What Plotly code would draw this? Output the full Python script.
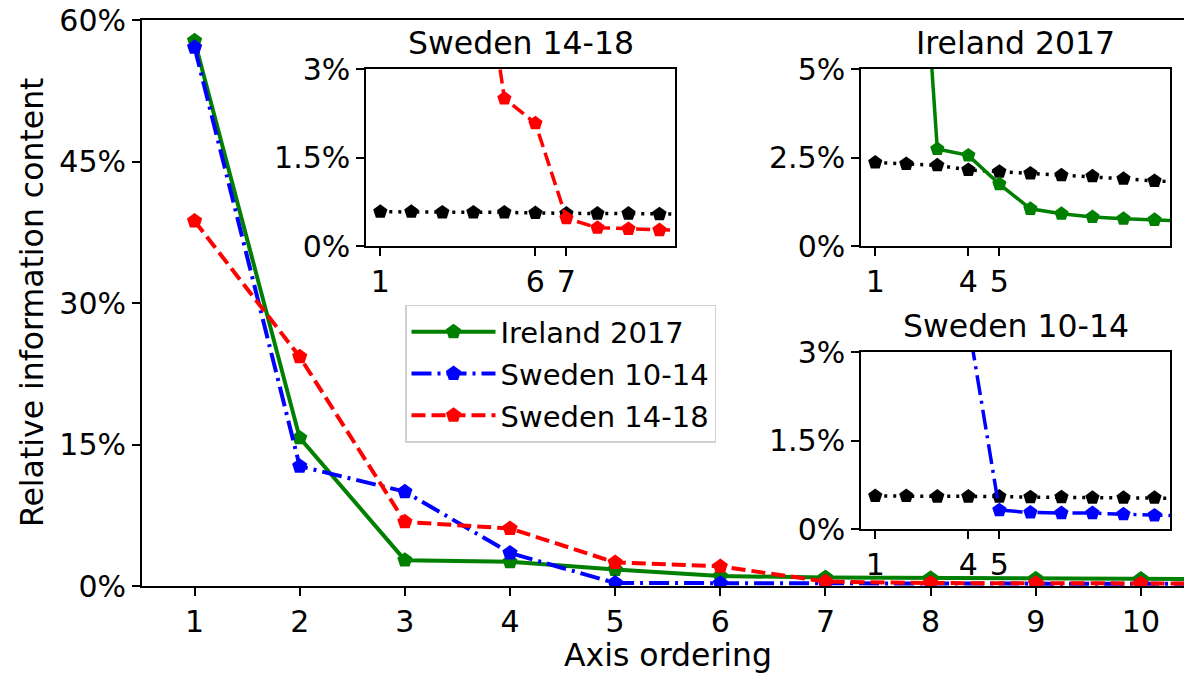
import plotly.graph_objects as go

# Axis ordering positions (the last one lies just past the visible range)
positions = [1, 2, 3, 4, 5, 6, 7, 8, 9, 10, 11]

# Relative information content per position, in percent
ireland_2017 = [57.8, 15.7, 2.74, 2.56, 1.75, 1.05, 0.91, 0.82, 0.77, 0.74, 0.70]
sweden_10_14 = [57.1, 12.7, 10.0, 3.5, 0.32, 0.28, 0.27, 0.27, 0.25, 0.23, 0.22]
sweden_14_18 = [38.7, 24.3, 6.8, 6.1, 2.5, 2.08, 0.47, 0.31, 0.29, 0.27, 0.26]

# Reference (black dotted) curves shown in the zoomed panels, in percent
ref_sweden_14_18 = [0.58, 0.58, 0.57, 0.57, 0.57, 0.56, 0.55, 0.55, 0.55, 0.54, 0.54]
ref_ireland_2017 = [2.36, 2.32, 2.28, 2.15, 2.10, 2.05, 2.00, 1.97, 1.90, 1.84, 1.80]
ref_sweden_10_14 = [0.56, 0.56, 0.55, 0.55, 0.55, 0.54, 0.54, 0.53, 0.53, 0.53, 0.52]

main_yticks = [0, 15, 30, 45, 60]
main_xticks = [1, 2, 3, 4, 5, 6, 7, 8, 9, 10]

FONT = "DejaVu Sans"
GREEN, BLUE, RED, BLACK = "#008000", "#0000ff", "#ff0000", "#000000"
DASHED = "14px,6px"
DASHDOT = "20px,6px,3px,6px"
DOTTED = "3px,6px"

fig = go.Figure()


def add_series(x, y, color, dash, name, xa, ya, legend=False, width=4, size=16):
    fig.add_trace(go.Scatter(
        x=x, y=y, name=name, mode="lines+markers",
        line=dict(color=color, width=width, dash=dash),
        marker=dict(symbol="pentagon", size=size, color=color),
        xaxis=xa, yaxis=ya, showlegend=legend, legendgroup=name,
        cliponaxis=True,
    ))


# Main panel
add_series(positions, ireland_2017, GREEN, "solid", "Ireland 2017", "x", "y", True)
add_series(positions, sweden_10_14, BLUE, DASHDOT, "Sweden 10-14", "x", "y", True)
add_series(positions, sweden_14_18, RED, DASHED, "Sweden 14-18", "x", "y", True)

# Zoomed panels
add_series(positions, ref_sweden_14_18, BLACK, DOTTED, "ref 14-18", "x2", "y2", width=3.5, size=15)
add_series(positions, sweden_14_18, RED, DASHED, "Sweden 14-18 zoom", "x2", "y2", width=3.5, size=15)
add_series(positions, ref_ireland_2017, BLACK, DOTTED, "ref Ireland", "x3", "y3", width=3.5, size=15)
add_series(positions, ireland_2017, GREEN, "solid", "Ireland 2017 zoom", "x3", "y3", width=3.5, size=15)
add_series(positions, ref_sweden_10_14, BLACK, DOTTED, "ref 10-14", "x4", "y4", width=3.5, size=15)
add_series(positions, sweden_10_14, BLUE, DASHDOT, "Sweden 10-14 zoom", "x4", "y4", width=3.5, size=15)

tickfont = dict(family=FONT, size=30, color="black")

fig.update_layout(
    width=1184, height=673,
    margin=dict(l=142, r=0, t=20, b=87),
    paper_bgcolor="white", plot_bgcolor="white",
    font=dict(family=FONT, color="black"),
    showlegend=True,
    legend=dict(
        x=0.2524, y=0.4965, xanchor="left", yanchor="top",
        font=dict(family=FONT, size=29),
        bgcolor="white", bordercolor="#d0d0d0", borderwidth=1.5,
        tracegroupgap=1, itemwidth=84,
    ),
    xaxis=dict(
        domain=[0, 1], range=[0.5, 10.41], tickvals=main_xticks,
        showline=True, linecolor="black", linewidth=2, mirror=True,
        ticks="outside", ticklen=8, tickwidth=1.5, tickcolor="black",
        tickfont=tickfont, showgrid=False, zeroline=False,
    ),
    yaxis=dict(
        domain=[0, 1], range=[0, 60], tickvals=main_yticks,
        ticktext=[f"{v}%" for v in main_yticks],
        showline=True, linecolor="black", linewidth=2, mirror=False,
        ticks="outside", ticklen=8, tickwidth=1.5, tickcolor="black",
        tickfont=tickfont, showgrid=False, zeroline=False,
    ),
)

inset_defs = [
    # (axis suffix, x domain, y domain, y max, y ticks, y tick text, x ticks, title)
    ("2", [0.2150, 0.5115], [0.6007, 0.9134], 3, [0, 1.5, 3], ["0%", "1.5%", "3%"], [1, 6, 7], "Sweden 14-18"),
    ("3", [0.6900, 0.9866], [0.6007, 0.9134], 5, [0, 2.5, 5], ["0%", "2.5%", "5%"], [1, 4, 5], "Ireland 2017"),
    ("4", [0.6900, 0.9866], [0.1007, 0.4134], 3, [0, 1.5, 3], ["0%", "1.5%", "3%"], [1, 4, 5], "Sweden 10-14"),
]

for sfx, xd, yd, ymax, yt, ytt, xt, title in inset_defs:
    fig.update_layout({
        f"xaxis{sfx}": dict(
            domain=xd, range=[0.54, 10.5], anchor=f"y{sfx}", tickvals=xt,
            showline=True, linecolor="black", linewidth=1.5, mirror=True,
            ticks="outside", ticklen=8, tickwidth=1.5, tickcolor="black",
            tickfont=tickfont, showgrid=False, zeroline=False,
        ),
        f"yaxis{sfx}": dict(
            domain=yd, range=[0, ymax], anchor=f"x{sfx}", tickvals=yt, ticktext=ytt,
            showline=True, linecolor="black", linewidth=1.5, mirror=True,
            ticks="outside", ticklen=8, tickwidth=1.5, tickcolor="black",
            tickfont=tickfont, showgrid=False, zeroline=False,
        ),
    })
    fig.add_annotation(
        text=title, xref="paper", yref="paper",
        x=(xd[0] + xd[1]) / 2, y=yd[1], xanchor="center", yanchor="bottom",
        yshift=6, showarrow=False, font=dict(family=FONT, size=31.5, color="black"),
    )

# Axis titles
fig.add_annotation(
    text="Axis ordering", xref="paper", yref="paper", x=0.5048, y=0,
    xanchor="center", yanchor="top", yshift=-49, showarrow=False,
    font=dict(family=FONT, size=31.5, color="black"),
)
fig.add_annotation(
    text="Relative information content", xref="paper", yref="paper",
    x=0, y=0.5, xanchor="center", yanchor="middle", xshift=-110, textangle=-90,
    showarrow=False, font=dict(family=FONT, size=31.5, color="black"),
)

fig.write_html("out.html")
